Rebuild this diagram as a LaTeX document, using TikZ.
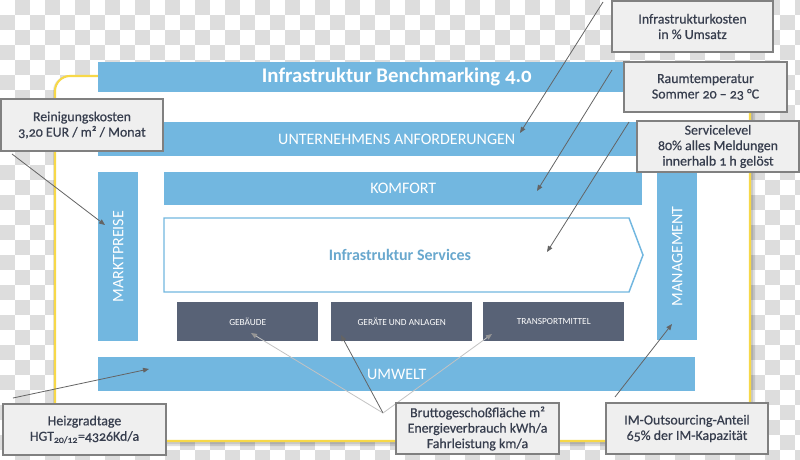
\documentclass[tikz,border=0pt]{standalone}
\usepackage{fontspec}
\setmainfont{Carlito}[Numbers=OldStyle]
\usetikzlibrary{arrows.meta}
\definecolor{chk}{RGB}{221,221,221}
\definecolor{barblue}{RGB}{114,183,224}
\definecolor{darkbox}{RGB}{88,98,118}
\definecolor{callfill}{RGB}{239,239,239}
\definecolor{callline}{RGB}{128,128,128}
\definecolor{calltext}{RGB}{55,62,78}
\definecolor{yell}{RGB}{247,216,72}
\definecolor{conn}{RGB}{100,100,100}
\definecolor{lightconn}{RGB}{195,195,195}
\definecolor{tipgray}{RGB}{150,150,150}
\newcommand\pxl[1]{#1*0.75pt}
\tikzset{
  bar/.style={fill=barblue, draw=none, inner sep=0pt, anchor=north west, text=white},
  darkb/.style={fill=darkbox, draw=none, inner sep=0pt, anchor=north west, text=white,
    font=\fontsize{7pt}{8pt}\selectfont, minimum width=\pxl{141}, minimum height=\pxl{39}},
  callout/.style={fill=callfill, draw=callline, line width=0.8pt, inner sep=0pt, align=center,
    text=calltext, font=\fontsize{10.4pt}{11.6pt}\selectfont\addfontfeature{FakeBold=0.6}},
  conline/.style={draw=conn, line width=0.6pt, -{Triangle[length=4.5pt,width=3.6pt]}},
  lconline/.style={draw=lightconn, line width=0.6pt, -{Triangle[length=4.5pt,width=3.6pt,color=tipgray,fill=tipgray]}},
}
\begin{document}
\begin{tikzpicture}[x=0.75pt,y=-0.75pt]
\useasboundingbox (0,0) rectangle (800,460);
% checkerboard background
\fill[white] (0,0) rectangle (800,460);
\foreach \i in {1,3,...,53}{\foreach \j in {0,2,...,30}{\fill[chk] (\i*15,\j*15) rectangle ++(15,15);}}
\foreach \i in {0,2,...,52}{\foreach \j in {1,3,...,29}{\fill[chk] (\i*15,\j*15) rectangle ++(15,15);}}
% shadow and frame
\fill[black, opacity=0.12, rounded corners=15*0.75pt] (55,78) rectangle (755,446);
\fill[black, opacity=0.10, rounded corners=15*0.75pt] (53,76) rectangle (753,444);
\draw[yell, fill=white, line width=1.6pt, rounded corners=15*0.75pt] (55,76) rectangle (750,441);
% bars
\node[bar, minimum width=\pxl{597}, minimum height=\pxl{30}, font=\bfseries\fontsize{15.6pt}{17pt}\selectfont] (title) at (98,62) {Infrastruktur Benchmarking 4.0};
\node[bar, minimum width=\pxl{597}, minimum height=\pxl{34}, font=\fontsize{12pt}{14pt}\selectfont] (unt) at (98,122) {UNTERNEHMENS ANFORDERUNGEN};
\node[bar, minimum width=\pxl{40}, minimum height=\pxl{169}] (markt) at (98,172) {};
\node[rotate=90, text=white, font=\fontsize{12pt}{14pt}\selectfont] at (markt.center) {MARKTPREISE};
\node[bar, minimum width=\pxl{478}, minimum height=\pxl{33}, font=\fontsize{12pt}{14pt}\selectfont] (komf) at (164,172) {KOMFORT};
\node[bar, minimum width=\pxl{40}, minimum height=\pxl{168}] (mgmt) at (657,172) {};
\node[rotate=90, text=white, font=\fontsize{12pt}{14pt}\selectfont] at (mgmt.center) {MANAGEMENT};
\node[bar, minimum width=\pxl{597}, minimum height=\pxl{34}, font=\fontsize{12pt}{14pt}\selectfont] (umw) at (98,357) {UMWELT};
% services arrow
\draw[barblue, fill=white, line width=1.1pt] (164,218) -- (629,218) -- (643,255) -- (629,292) -- (164,292) -- cycle;
\node[text=barblue!92!black, font=\bfseries\fontsize{12pt}{14pt}\selectfont] (serv) at (400,255) {Infrastruktur Services};
% dark boxes
\node[darkb] (geb) at (177,302) {GEBÄUDE};
\node[darkb] (ger) at (331,302) {GERÄTE UND ANLAGEN};
\node[darkb] (tra) at (483,302) {TRANSPORTMITTEL};
% connector endpoints
\coordinate (tRK) at (105,225);
\coordinate (tIK) at (520,133);
\coordinate (tRT) at (537,191);
\coordinate (tSL) at (547,252);
\coordinate (tHG) at (149,369);
\coordinate (tIM) at (672,324);
\coordinate (tGEB) at (251,333);
\coordinate (tGER) at (341,335);
\coordinate (tTRA) at (492,334);
\coordinate (vBG) at (383,413);
\coordinate (sRK) at (12,154);
\coordinate (sIK) at (603,2);
\coordinate (sRT) at (612,70);
\coordinate (sSL) at (629,122);
\coordinate (sHG) at (13,398);
\coordinate (sIM) at (615,397);
% connectors
\draw[conline] (sRK) -- (tRK);
\draw[conline] (sIK) -- (tIK);
\draw[conline] (sRT) -- (tRT);
\draw[conline] (sSL) -- (tSL);
\draw[conline] (sHG) -- (tHG);
\draw[conline] (sIM) -- (tIM);
\draw[lconline] (vBG) -- (tGEB);
\draw[conline] (vBG) -- (tGER);
\draw[lconline] (vBG) -- (tTRA);
% callouts
\node[callout, minimum width=\pxl{162}, minimum height=\pxl{52}] (rk) at (82,125) {Reinigungskosten\\3,20 EUR / m² / Monat};
\node[callout, minimum width=\pxl{161}, minimum height=\pxl{51}] (ik) at (692.5,26.5) {Infrastrukturkosten\\in \% Umsatz};
\node[callout, minimum width=\pxl{163}, minimum height=\pxl{50}] (rt) at (705.5,87) {Raumtemperatur\\Sommer 20 – 23 °C};
\node[callout, minimum width=\pxl{162}, minimum height=\pxl{51}] (sl) at (718,146.5) {Servicelevel\\80\% alles Meldungen\\innerhalb 1 h gelöst};
\node[callout, minimum width=\pxl{163}, minimum height=\pxl{51}] (hg) at (84.5,429.5) {Heizgradtage\\HGT\textsubscript{20/12}=4326Kd/a};
\node[callout, minimum width=\pxl{163}, minimum height=\pxl{51}] (bg) at (477.5,428.5) {Bruttogeschoßfläche m²\\Energieverbrauch kWh/a\\Fahrleistung km/a};
\node[callout, minimum width=\pxl{162}, minimum height=\pxl{51}] (im) at (687,428.5) {IM-Outsourcing-Anteil\\65\% der IM-Kapazität};
\end{tikzpicture}
\end{document}
